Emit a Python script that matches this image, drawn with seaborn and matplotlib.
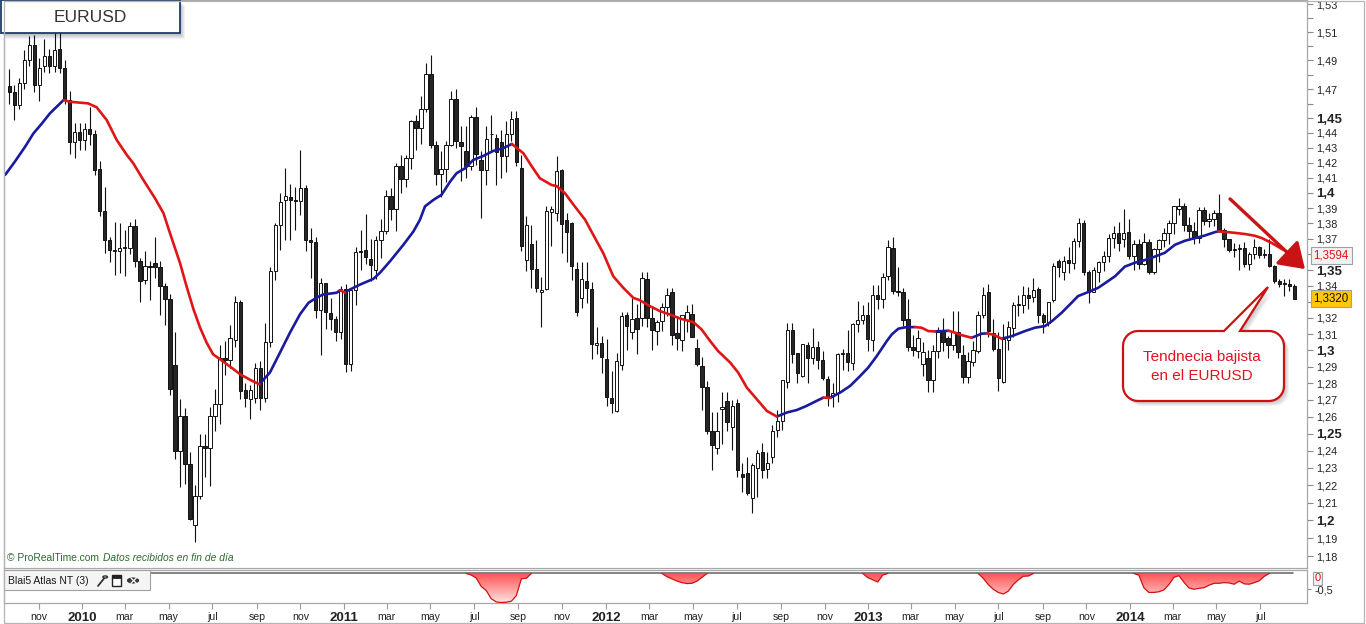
import numpy as np
import pandas as pd
import matplotlib
matplotlib.use("Agg")
import matplotlib.pyplot as plt
import seaborn as sns
from matplotlib.patches import Rectangle, Polygon, Circle, FancyArrowPatch
from matplotlib.colors import LinearSegmentedColormap
from matplotlib.ticker import FixedLocator, FixedFormatter, NullLocator
from matplotlib.transforms import blended_transform_factory

# ---------------- data (weekly EURUSD candles, first week starts 2009-09-21) ----------------
START = "2009-09-21"

opens = [1.472, 1.468, 1.459, 1.474, 1.490, 1.501, 1.473, 1.486, 1.493, 1.486,
         1.498, 1.485, 1.4625, 1.434, 1.441, 1.435, 1.443, 1.439, 1.416, 1.388,
         1.369, 1.362, 1.362, 1.364, 1.364, 1.3785, 1.3555, 1.344, 1.3525, 1.3545,
         1.352, 1.340, 1.332, 1.291, 1.240, 1.2605, 1.232, 1.1975, 1.2141, 1.2427,
         1.2413, 1.2605, 1.2677, 1.2955, 1.294, 1.3065, 1.330, 1.2757, 1.2705, 1.271,
         1.2894, 1.2712, 1.305, 1.3497, 1.3788, 1.3952, 1.397, 1.395, 1.3945, 1.403,
         1.369, 1.368, 1.325, 1.342, 1.323, 1.319, 1.311, 1.338, 1.2915, 1.3375,
         1.3620, 1.3630, 1.3570, 1.3500, 1.3693, 1.3750, 1.3980, 1.3895, 1.4178, 1.4090,
         1.4232, 1.4480, 1.4432, 1.4564, 1.4806, 1.4316, 1.4125, 1.4155, 1.4318, 1.4630,
         1.4340, 1.4280, 1.4180, 1.4507, 1.4218, 1.4149, 1.4390, 1.4365, 1.4340, 1.4244,
         1.4395, 1.4505, 1.4165, 1.3566, 1.3667, 1.3510, 1.3360, 1.3380, 1.3872, 1.3870,
         1.4150, 1.3825, 1.3805, 1.3505, 1.3325, 1.3430, 1.3380, 1.3035, 1.3045, 1.2945,
         1.2710, 1.2635, 1.2913, 1.3220, 1.3115, 1.3200, 1.3200, 1.3445, 1.3200, 1.3118,
         1.3178, 1.3265, 1.3360, 1.3105, 1.3065, 1.3185, 1.3225, 1.3015, 1.2905, 1.2780,
         1.2515, 1.2415, 1.2645, 1.2694, 1.2538, 1.2680, 1.2265, 1.2268, 1.2126, 1.2298,
         1.2393, 1.2294, 1.2365, 1.2523, 1.2575, 1.2810, 1.3122, 1.2985, 1.2845, 1.3030,
         1.2955, 1.3022, 1.2939, 1.2824, 1.2724, 1.2744, 1.2975, 1.2985, 1.2925, 1.3163,
         1.3186, 1.3217, 1.3065, 1.3345, 1.3316, 1.3465, 1.3641, 1.3365, 1.3360, 1.3195,
         1.3020, 1.2995, 1.2915, 1.2950, 1.2820, 1.2997, 1.3118, 1.3078, 1.3035, 1.3115,
         1.2970, 1.2836, 1.2930, 1.2995, 1.3215, 1.3360, 1.3105, 1.3005, 1.2810, 1.3065,
         1.3135, 1.3280, 1.3283, 1.3340, 1.3330, 1.3380, 1.3216, 1.3170, 1.3313, 1.3555,
         1.3486, 1.3566, 1.3546, 1.3685, 1.3805, 1.3488, 1.3364, 1.3490, 1.3554, 1.3588,
         1.3705, 1.3740, 1.3700, 1.3745, 1.3589, 1.3667, 1.3540, 1.3677, 1.3486, 1.3636,
         1.3692, 1.3739, 1.3802, 1.3895, 1.3913, 1.3791, 1.3751, 1.3704, 1.3888, 1.3814,
         1.3830, 1.3871, 1.3759, 1.3697, 1.3627, 1.3634, 1.3643, 1.3540, 1.3604, 1.3646,
         1.3594, 1.3605, 1.3525, 1.3430, 1.3414, 1.3413, 1.3398]

highs = [1.484, 1.473, 1.478, 1.497, 1.507, 1.508, 1.492, 1.505, 1.498, 1.514,
         1.510, 1.490, 1.469, 1.447, 1.447, 1.447, 1.458, 1.442, 1.421, 1.404,
         1.371, 1.381, 1.380, 1.376, 1.381, 1.383, 1.358, 1.362, 1.356, 1.371,
         1.356, 1.342, 1.335, 1.3115, 1.2704, 1.265, 1.239, 1.220, 1.2497, 1.2497,
         1.266, 1.2764, 1.3035, 1.3055, 1.3155, 1.3335, 1.331, 1.280, 1.279, 1.292,
         1.2935, 1.3165, 1.352, 1.380, 1.400, 1.4163, 1.406, 1.404, 1.4282, 1.405,
         1.377, 1.371, 1.345, 1.342, 1.3325, 1.321, 1.340, 1.341, 1.3388, 1.365,
         1.376, 1.386, 1.370, 1.372, 1.383, 1.402, 1.4035, 1.4195, 1.425, 1.425,
         1.4485, 1.452, 1.465, 1.488, 1.494, 1.4345, 1.428, 1.4345, 1.469, 1.470,
         1.445, 1.445, 1.4525, 1.458, 1.428, 1.445, 1.452, 1.439, 1.442, 1.448,
         1.455, 1.455, 1.425, 1.385, 1.379, 1.369, 1.3455, 1.3915, 1.3915, 1.4245,
         1.416, 1.387, 1.381, 1.355, 1.355, 1.355, 1.3425, 1.3145, 1.309, 1.307,
         1.2875, 1.2985, 1.3235, 1.3235, 1.3325, 1.3285, 1.3485, 1.3485, 1.3275, 1.3185,
         1.3295, 1.3385, 1.3385, 1.321, 1.322, 1.328, 1.3285, 1.307, 1.296, 1.2815,
         1.2625, 1.2625, 1.2745, 1.2745, 1.270, 1.2705, 1.233, 1.2365, 1.233, 1.2405,
         1.2445, 1.239, 1.255, 1.264, 1.282, 1.317, 1.317, 1.2985, 1.304, 1.305,
         1.314, 1.306, 1.2995, 1.2845, 1.280, 1.2985, 1.301, 1.3125, 1.3165, 1.3307,
         1.328, 1.330, 1.3405, 1.3405, 1.348, 1.3695, 1.371, 1.352, 1.3385, 1.332,
         1.3095, 1.3122, 1.305, 1.300, 1.303, 1.3145, 1.320, 1.309, 1.324, 1.324,
         1.303, 1.299, 1.306, 1.324, 1.339, 1.3415, 1.3195, 1.311, 1.316, 1.318,
         1.330, 1.3345, 1.340, 1.3395, 1.345, 1.3395, 1.323, 1.330, 1.3545, 1.357,
         1.359, 1.3645, 1.3705, 1.3832, 1.382, 1.350, 1.352, 1.356, 1.362, 1.373,
         1.378, 1.381, 1.3893, 1.383, 1.369, 1.370, 1.374, 1.370, 1.364, 1.370,
         1.377, 1.3825, 1.3915, 1.3967, 1.393, 1.384, 1.381, 1.3905, 1.3905, 1.387,
         1.389, 1.3993, 1.377, 1.370, 1.3675, 1.367, 1.368, 1.3615, 1.370, 1.3655,
         1.3635, 1.370, 1.3535, 1.3445, 1.3445, 1.3445, 1.341]

lows = [1.460, 1.449, 1.456, 1.470, 1.486, 1.468, 1.462, 1.482, 1.481, 1.482,
        1.481, 1.460, 1.426, 1.423, 1.4285, 1.4285, 1.432, 1.412, 1.385, 1.361,
        1.355, 1.347, 1.348, 1.346, 1.360, 1.352, 1.330, 1.341, 1.331, 1.345,
        1.322, 1.3153, 1.273, 1.235, 1.219, 1.2207, 1.200, 1.1876, 1.212, 1.2248,
        1.2198, 1.2516, 1.2556, 1.285, 1.289, 1.302, 1.2704, 1.266, 1.2585, 1.268,
        1.264, 1.2685, 1.302, 1.344, 1.363, 1.3694, 1.369, 1.376, 1.3855, 1.362,
        1.345, 1.320, 1.297, 1.313, 1.3125, 1.3055, 1.307, 1.287, 1.2875, 1.328,
        1.350, 1.354, 1.343, 1.3445, 1.358, 1.373, 1.382, 1.375, 1.400, 1.404,
        1.416, 1.4285, 1.4325, 1.4545, 1.430, 1.405, 1.397, 1.407, 1.431, 1.430,
        1.4075, 1.410, 1.415, 1.4185, 1.3837, 1.405, 1.427, 1.405, 1.410, 1.414,
        1.4345, 1.418, 1.362, 1.3495, 1.3385, 1.336, 1.3145, 1.3375, 1.3655, 1.3815,
        1.361, 1.355, 1.344, 1.321, 1.326, 1.329, 1.2945, 1.298, 1.286, 1.2665,
        1.2624, 1.2625, 1.288, 1.300, 1.307, 1.2975, 1.315, 1.3145, 1.300, 1.303,
        1.312, 1.321, 1.3035, 1.300, 1.2995, 1.311, 1.308, 1.2905, 1.264, 1.2495,
        1.2288, 1.238, 1.244, 1.2515, 1.2405, 1.225, 1.216, 1.2145, 1.2042, 1.2135,
        1.224, 1.224, 1.233, 1.248, 1.252, 1.277, 1.292, 1.280, 1.2835, 1.280,
        1.2915, 1.2885, 1.282, 1.2665, 1.266, 1.269, 1.288, 1.2875, 1.288, 1.3115,
        1.316, 1.2995, 1.2995, 1.3255, 1.326, 1.344, 1.335, 1.3335, 1.315, 1.2995,
        1.2965, 1.295, 1.2843, 1.2745, 1.275, 1.295, 1.2995, 1.2955, 1.300, 1.2955,
        1.280, 1.280, 1.2905, 1.2985, 1.320, 1.308, 1.2995, 1.2755, 1.280, 1.300,
        1.308, 1.321, 1.323, 1.3255, 1.330, 1.317, 1.3105, 1.315, 1.330, 1.3455,
        1.344, 1.348, 1.351, 1.365, 1.347, 1.3295, 1.336, 1.3425, 1.3495, 1.355,
        1.364, 1.3625, 1.365, 1.357, 1.350, 1.351, 1.353, 1.3475, 1.3475, 1.355,
        1.3645, 1.3665, 1.373, 1.3855, 1.375, 1.3705, 1.367, 1.3675, 1.379, 1.3775,
        1.378, 1.375, 1.365, 1.3615, 1.3585, 1.3503, 1.352, 1.350, 1.357, 1.358,
        1.3575, 1.352, 1.342, 1.339, 1.3335, 1.3365, 1.3315]

closes = [1.468, 1.459, 1.474, 1.490, 1.501, 1.473, 1.485, 1.493, 1.486, 1.497,
          1.485, 1.463, 1.434, 1.441, 1.435, 1.443, 1.439, 1.415, 1.388, 1.369,
          1.363, 1.363, 1.364, 1.365, 1.3785, 1.3555, 1.343, 1.3525, 1.352, 1.352,
          1.340, 1.332, 1.2764, 1.240, 1.2605, 1.232, 1.2008, 1.2141, 1.2427, 1.2413,
          1.2605, 1.2677, 1.2955, 1.294, 1.3077, 1.330, 1.2755, 1.271, 1.276, 1.2894,
          1.2712, 1.305, 1.3497, 1.3788, 1.394, 1.3979, 1.395, 1.3945, 1.403, 1.369,
          1.368, 1.3252, 1.342, 1.3235, 1.319, 1.311, 1.338, 1.2915, 1.3375, 1.3615,
          1.3615, 1.3585, 1.3535, 1.3693, 1.3750, 1.3980, 1.3895, 1.4178, 1.4090, 1.4232,
          1.4482, 1.4432, 1.4564, 1.4806, 1.4316, 1.4125, 1.4155, 1.4318, 1.4630, 1.4349,
          1.4311, 1.4180, 1.4507, 1.4260, 1.4149, 1.4361, 1.4391, 1.4270, 1.4244, 1.4395,
          1.4494, 1.4205, 1.3652, 1.3792, 1.3504, 1.3386, 1.3377, 1.3884, 1.3895, 1.4143,
          1.3797, 1.3747, 1.3524, 1.3236, 1.3443, 1.3384, 1.3039, 1.3045, 1.2961, 1.2718,
          1.2680, 1.2933, 1.3214, 1.3147, 1.3196, 1.3130, 1.3450, 1.3197, 1.3125, 1.3173,
          1.3265, 1.3345, 1.3097, 1.3077, 1.3220, 1.3236, 1.3084, 1.2918, 1.2776, 1.2517,
          1.2435, 1.2516, 1.2658, 1.2568, 1.2665, 1.2290, 1.2247, 1.2156, 1.2316, 1.2386,
          1.2290, 1.2331, 1.2513, 1.2577, 1.2820, 1.3127, 1.2978, 1.2859, 1.3036, 1.2954,
          1.3023, 1.2939, 1.2833, 1.2712, 1.2741, 1.2976, 1.2986, 1.2927, 1.3163, 1.3186,
          1.3217, 1.3067, 1.3343, 1.3316, 1.3458, 1.3647, 1.3365, 1.3363, 1.3189, 1.3021,
          1.3004, 1.3074, 1.2987, 1.2819, 1.2996, 1.3113, 1.3048, 1.3031, 1.3114, 1.2990,
          1.2836, 1.2935, 1.2999, 1.3220, 1.3345, 1.3118, 1.3008, 1.2832, 1.3067, 1.3141,
          1.3279, 1.3283, 1.3344, 1.3324, 1.3377, 1.3220, 1.3177, 1.3296, 1.3525, 1.3522,
          1.3555, 1.3547, 1.3685, 1.3805, 1.3485, 1.3364, 1.3498, 1.3554, 1.3591, 1.3705,
          1.3740, 1.3672, 1.3740, 1.3589, 1.3667, 1.3540, 1.3677, 1.3486, 1.3636, 1.3692,
          1.3739, 1.3802, 1.3911, 1.3913, 1.3791, 1.3751, 1.3704, 1.3888, 1.3814, 1.3830,
          1.3871, 1.3759, 1.3697, 1.3627, 1.3634, 1.3643, 1.3540, 1.3604, 1.3646, 1.3594,
          1.3605, 1.3525, 1.3429, 1.3414, 1.3413, 1.3398, 1.3320]

# moving average (x in weeks from START)
ma_week = [-0.8, 1.1, 3.1, 4.8, 6.5, 8.1, 9.8, 10.8, 12.1, 15.7,
           17.4, 19.4, 21.4, 23.4, 24.7, 26.7, 29.0, 30.7, 32.0, 34.0,
           35.3, 36.7, 38.0, 39.3, 40.6, 42.0, 44.0, 46.0, 48.0, 49.8,
           51.9, 53.9, 55.9, 57.9, 59.6, 61.2, 62.5, 65.2, 65.9, 66.9,
           67.2, 69.9, 72.5, 73.8, 75.8, 78.5, 80.5, 81.8, 82.8, 84.5,
           86.1, 87.8, 89.1, 90.8, 92.4, 94.4, 96.4, 98.4, 100.1, 102.4,
           104.1, 105.7, 108.0, 109.0, 110.7, 112.4, 114.7, 116.3, 118.3, 120.3,
           122.3, 124.3, 125.6, 127.6, 129.6, 131.6, 133.6, 136.3, 137.9, 139.6,
           141.2, 143.6, 145.2, 146.9, 148.9, 150.9, 152.9, 154.9, 156.9, 158.8,
           160.8, 162.2, 163.5, 165.5, 167.5, 169.5, 171.1, 172.8, 174.8, 175.8,
           177.1, 178.4, 180.4, 181.7, 183.1, 184.4, 187.1, 188.4, 189.7, 191.7,
           193.7, 194.7, 196.0, 197.7, 199.7, 202.3, 204.3, 206.3, 207.7, 209.6,
           211.6, 212.9, 214.9, 216.9, 218.9, 220.3, 222.2, 224.2, 226.2, 228.2,
           230.2, 232.2, 234.2, 236.2, 238.2, 240.2, 240.8, 243.5, 246.2, 248.1,
           249.5, 251.5, 253.5, 256.0]
ma_val = [1.412, 1.4207, 1.4305, 1.4397, 1.4465, 1.4534, 1.4591, 1.4625, 1.4613, 1.4602,
          1.4575, 1.4488, 1.4352, 1.4252, 1.4196, 1.4085, 1.3965, 1.3867, 1.3737, 1.3545,
          1.3398, 1.3252, 1.3139, 1.3047, 1.2975, 1.2945, 1.2900, 1.2854, 1.2820, 1.2794,
          1.2864, 1.2985, 1.3108, 1.3222, 1.3294, 1.3326, 1.3346, 1.3357, 1.3373, 1.3357,
          1.3367, 1.3409, 1.3444, 1.3482, 1.3555, 1.3662, 1.3748, 1.3824, 1.3911, 1.3954,
          1.3987, 1.4074, 1.4130, 1.4163, 1.4218, 1.4245, 1.4279, 1.4297, 1.4326, 1.4263,
          1.4174, 1.4096, 1.4052, 1.4045, 1.3997, 1.3921, 1.3824, 1.3727, 1.3609, 1.3461,
          1.3388, 1.3325, 1.3310, 1.3273, 1.3242, 1.3221, 1.3196, 1.3173, 1.3128, 1.3057,
          1.2995, 1.2925, 1.2864, 1.2774, 1.2704, 1.2634, 1.2601, 1.2625, 1.2640, 1.2664,
          1.2694, 1.2714, 1.2712, 1.2744, 1.2784, 1.2844, 1.2895, 1.2965, 1.3057, 1.3098,
          1.3133, 1.3141, 1.3143, 1.3139, 1.3118, 1.3116, 1.3120, 1.3108, 1.3093, 1.3077,
          1.3102, 1.3104, 1.3096, 1.3071, 1.3087, 1.3118, 1.3139, 1.3149, 1.3180, 1.3231,
          1.3294, 1.3336, 1.3361, 1.3388, 1.3431, 1.3462, 1.3522, 1.3547, 1.3564, 1.3586,
          1.3611, 1.3662, 1.3688, 1.3705, 1.3722, 1.3744, 1.3748, 1.3741, 1.3731, 1.3720,
          1.3705, 1.3673, 1.3635, 1.3594]

# "Blai5 Atlas NT (3)" indicator: non-zero episodes (start week, weekly values)
ind_start = [91, 130, 170, 193, 224]
ind_vals = [
    [0, -0.05, -0.14, -0.41, -0.54, -0.80, -0.90, -0.92, -0.91, -0.88, -0.70, -0.17, -0.15, 0],
    [0, -0.10, -0.17, -0.24, -0.29, -0.32, -0.31, -0.24, -0.12, 0],
    [0, -0.13, -0.20, -0.27, -0.05, 0],
    [0, -0.15, -0.35, -0.50, -0.60, -0.65, -0.56, -0.35, -0.20, -0.09, -0.08, 0],
    [0, -0.05, -0.45, -0.60, -0.60, -0.58, -0.52, -0.35, -0.12, -0.07, -0.28, -0.46, -0.50, -0.47,
     -0.45, -0.37, -0.31, -0.31, -0.29, -0.30, -0.34, -0.24, -0.33, -0.34, -0.29, -0.23, -0.09, 0],
]

tick_months = ["2009-11", "2010-01", "2010-03", "2010-05", "2010-07", "2010-09", "2010-11",
               "2011-01", "2011-03", "2011-05", "2011-07", "2011-09", "2011-11",
               "2012-01", "2012-03", "2012-05", "2012-07", "2012-09", "2012-11",
               "2013-01", "2013-03", "2013-05", "2013-07", "2013-09", "2013-11",
               "2014-01", "2014-03", "2014-05", "2014-07"]
tick_labels = ["nov", "2010", "mar", "may", "jul", "sep", "nov",
               "2011", "mar", "may", "jul", "sep", "nov",
               "2012", "mar", "may", "jul", "sep", "nov",
               "2013", "mar", "may", "jul", "sep", "nov",
               "2014", "mar", "may", "jul"]

price_ticks = [1.53, 1.52, 1.51, 1.50, 1.49, 1.48, 1.47, 1.46, 1.45, 1.44, 1.43, 1.42, 1.41,
               1.40, 1.39, 1.38, 1.37, 1.36, 1.35, 1.34, 1.33, 1.32, 1.31, 1.30, 1.29, 1.28,
               1.27, 1.26, 1.25, 1.24, 1.23, 1.22, 1.21, 1.20, 1.19, 1.18]
price_labels = ["1,53", "", "1,51", "", "1,49", "", "1,47", "", "1,45", "1,44", "1,43", "1,42", "1,41",
                "1,4", "1,39", "1,38", "1,37", "", "1,35", "1,34", "", "1,32", "1,31", "1,3", "1,29", "1,28",
                "1,27", "1,26", "1,25", "1,24", "1,23", "1,22", "1,21", "1,2", "1,19", "1,18"]
bold_labels = ["1,45", "1,4", "1,35", "1,3", "1,25", "1,2"]

# ---------------- style ----------------
sns.set_theme(style="white")
plt.rcParams['font.family'] = ['Liberation Sans', 'DejaVu Sans']

W, H = 1366, 624
fig = plt.figure(figsize=(W / 100, H / 100), dpi=100, facecolor="white")


def P(x, y):
    return (x / W, 1 - y / H)


LEFT, RIGHT = 4, 1306.5
ax = fig.add_axes([LEFT / W, 1 - 568 / H, (RIGHT - LEFT) / W, 568 / H])
axi = fig.add_axes([LEFT / W, 1 - 603 / H, (RIGHT - LEFT) / W, 33 / H])
XL = (-1.06, 258.4)

# ---------------- candles ----------------
o = np.array(opens); h = np.array(highs); l = np.array(lows); c = np.array(closes)
n = len(c)
idx = np.arange(n, dtype=float)
up = c >= o
ax.set_yscale('log')
ax.vlines(idx, l, h, color="#111111", lw=0.8, zorder=2)
bot = np.minimum(o, c)
hgt = np.maximum(np.abs(c - o), 0.0004)
ax.bar(idx[up], hgt[up], bottom=bot[up], width=0.68, color="white",
       edgecolor="#111111", linewidth=0.7, zorder=3)
ax.bar(idx[~up], hgt[~up], bottom=bot[~up], width=0.68, color="#262626",
       edgecolor="#111111", linewidth=0.7, zorder=3)

# ---------------- moving average (blue rising / red falling) ----------------
mw = np.array(ma_week); mv = np.array(ma_val)
rows = []
seg = 0
prev = None
for k in range(len(mw) - 1):
    d = "up" if mv[k + 1] >= mv[k] else "down"
    if d != prev:
        seg += 1
        rows.append((seg, d, mw[k], mv[k]))
    rows.append((seg, d, mw[k + 1], mv[k + 1]))
    prev = d
ma_df = pd.DataFrame(rows, columns=["seg", "dir", "x", "y"])
sns.lineplot(data=ma_df, x="x", y="y", hue="dir", units="seg", estimator=None, sort=False,
             palette={"up": "#1a1a9e", "down": "#e01515"}, linewidth=1.9, legend=False,
             ax=ax, zorder=4)

ax.set_xlim(*XL)
ax.set_ylim(1.1734, 1.533)
ax.set_xlabel(""); ax.set_ylabel("")
ax.set_xticks([])
ax.yaxis.tick_right()
ax.yaxis.set_major_locator(FixedLocator(price_ticks))
ax.yaxis.set_major_formatter(FixedFormatter(price_labels))
ax.yaxis.set_minor_locator(NullLocator())
ax.tick_params(axis='y', which='major', length=4, width=0.8, color='#8a8a8a', pad=3,
               labelsize=7.8, labelcolor='#222222', direction='out', right=True, left=False)
for t in ax.get_yticklabels():
    if t.get_text() in bold_labels:
        t.set_fontweight('bold')
        t.set_fontsize(9.5)
for s in ax.spines.values():
    s.set_color('#a8a8a8'); s.set_linewidth(0.9)

# current-value boxes
btr = blended_transform_factory(ax.transAxes, ax.transData)
ax.text(1.0055, ma_val[-1], "1,3594", transform=btr, ha='left', va='center', fontsize=8.3,
        color='#e01515', clip_on=False, zorder=10,
        bbox=dict(boxstyle='square,pad=0.22', fc='#f2f2f2', ec='#a0a0a0', lw=0.8))
ax.text(1.0055, closes[-1], "1,3320", transform=btr, ha='left', va='center', fontsize=8.3,
        color='#111111', clip_on=False, zorder=10,
        bbox=dict(boxstyle='square,pad=0.22', fc='#ffc80a', ec='#a0a0a0', lw=0.8))

# watermark (second part chained to the right of the first)
wm = ax.text(0.0025, 0.0095, "© ProRealTime.com", transform=ax.transAxes, fontsize=7.4,
             color='#2e6a30', ha='left', va='bottom')
ax.annotate("Datos recibidos en fin de día", xy=(1, 0), xycoords=wm, xytext=(3, 0),
            textcoords='offset points', fontsize=7.4, color='#2e6a30', ha='left', va='bottom',
            style='italic')

# ---------------- indicator panel ----------------
ind = np.zeros(n)
for s0, vals in zip(ind_start, ind_vals):
    ind[s0:s0 + len(vals)] = vals
poly = axi.fill_between(idx, ind, 0, facecolor='none', edgecolor='none')
grad = np.linspace(0, 1, 256).reshape(-1, 1)
cmap = LinearSegmentedColormap.from_list('g', ['#ff5252', '#ffe4e4'])
im = axi.imshow(grad, extent=[idx[0], idx[-1], -0.93, 0], origin='upper', aspect='auto',
                cmap=cmap, zorder=2)
im.set_clip_path(poly.get_paths()[0], transform=axi.transData)
axi.plot([XL[0], 255.7], [0, 0], color='#6e6e6e', lw=1.2, zorder=3)
ep_rows = []
for e, (s0, vals) in enumerate(zip(ind_start, ind_vals)):
    for j, v in enumerate(vals):
        ep_rows.append((e, s0 + j, v))
ep_df = pd.DataFrame(ep_rows, columns=["ep", "x", "v"])
sns.lineplot(data=ep_df, x="x", y="v", units="ep", estimator=None, color="#d01010",
             linewidth=0.9, legend=False, ax=axi, zorder=4)
axi.set_xlim(*XL)
axi.set_ylim(-0.935, 0.11)
axi.set_xlabel(""); axi.set_ylabel("")
for s in axi.spines.values():
    s.set_color('#a8a8a8'); s.set_linewidth(0.9)
axi.yaxis.tick_right()
axi.set_yticks([-0.5])
axi.set_yticklabels(["-0,5"])
axi.tick_params(axis='y', length=3, width=0.8, color='#8a8a8a', pad=3, labelsize=7.8,
                labelcolor='#222222', right=True, left=False)
axi.text(1.0062, 0.0, "0", transform=blended_transform_factory(axi.transAxes, axi.transData),
         ha='left', va='top', fontsize=8, color='#e01515', clip_on=False, zorder=10,
         bbox=dict(boxstyle='square,pad=0.15', fc='#f2f2f2', ec='#a0a0a0', lw=0.8))

start = pd.Timestamp(START)
tick_pos = [(pd.Timestamp(m + "-01") - start).days / 7.0 for m in tick_months]
axi.set_xticks(tick_pos)
axi.set_xticklabels(tick_labels)
axi.tick_params(axis='x', length=4, width=0.8, color='#9a9a9a', pad=2.5, labelsize=7.6,
                labelcolor='#222222', bottom=True, direction='out')
for t in axi.get_xticklabels():
    if t.get_text().isdigit():
        t.set_fontweight('bold')
        t.set_fontsize(9.5)

# indicator title box
fig.patches.append(Rectangle(P(4, 590), 146 / W, 20 / H, transform=fig.transFigure,
                             fc='#f4f4f4', ec='#a0a0a0', lw=0.8, zorder=30))
fig.text(*P(8, 580.5), "Blai5 Atlas NT (3)", fontsize=7.5, color='#1a1a1a',
         ha='left', va='center', zorder=31)
# wrench icon
fig.lines.append(plt.Line2D([98 / W, 104 / W], [1 - 586 / H, 1 - 578.5 / H], transform=fig.transFigure,
                            color='#333333', lw=1.3, zorder=31))
fig.patches.append(Circle(P(105.2, 577), 2.3 / W, transform=fig.transFigure, fc='none',
                          ec='#333333', lw=1.0, zorder=31))
# window icon
fig.patches.append(Rectangle(P(112, 586), 9 / W, 11 / H, transform=fig.transFigure,
                             fc='white', ec='#222222', lw=1.0, zorder=31))
fig.patches.append(Rectangle(P(112, 577.5), 9 / W, 2.5 / H, transform=fig.transFigure,
                             fc='#222222', ec='#222222', lw=0.6, zorder=32))
# close icon
fig.patches.append(Circle(P(133, 580.5), 5.6 / W, transform=fig.transFigure, fc='#3a3a3a',
                          ec='#222222', lw=0.6, zorder=31))
fig.text(*P(133, 580.8), "×", fontsize=8, color='white', ha='center', va='center',
         fontweight='bold', zorder=33, family='DejaVu Sans')

# ---------------- title box ----------------
for k in range(1, 7):
    fig.patches.append(Rectangle(P(0 + k, 33 + k), 179 / W, 33 / H, transform=fig.transFigure,
                                 fc='black', alpha=0.05, ec='none', zorder=19))
fig.patches.append(Rectangle(P(0.5, 33), 179 / W, 32.5 / H, transform=fig.transFigure,
                             fc='white', ec='#1f3b6e', lw=1.3, zorder=20))
fig.text(*P(90, 17), "EURUSD", fontsize=12.5, color='#333333', ha='center', va='center', zorder=21)

# ---------------- trend arrow ----------------
fig.patches.append(FancyArrowPatch(P(1228, 197), P(1307, 271), transform=fig.transFigure,
                                   arrowstyle='-|>,head_length=0.75,head_width=0.5',
                                   mutation_scale=20, lw=2.4, color='#c81414', zorder=25))

# ---------------- callout ----------------
def arc(cx, cy, r, a0, a1, npts=10):
    a = np.radians(np.linspace(a0, a1, npts))
    return [(cx + r * np.cos(t), cy + r * np.sin(t)) for t in a]


x0, x1, y0, y1, r = 1123, 1284, 331, 401, 15
pts = [(x0 + r, y0), (1224, y0), (1268, 287), (1240, y0), (x1 - r, y0)]
pts += arc(x1 - r, y0 + r, r, 270, 360)
pts += arc(x1 - r, y1 - r, r, 0, 90)
pts += arc(x0 + r, y1 - r, r, 90, 180)
pts += arc(x0 + r, y0 + r, r, 180, 270)
for k in range(1, 6):
    sh = [P(px + k, py + k) for px, py in pts]
    fig.patches.append(Polygon(sh, closed=True, transform=fig.transFigure, fc='black',
                               alpha=0.05, ec='none', zorder=22))
fig.patches.append(Polygon([P(px, py) for px, py in pts], closed=True, transform=fig.transFigure,
                           fc='white', ec='#cc1212', lw=1.6, zorder=23))
fig.text(*P(1202, 357), "Tendnecia bajista", fontsize=11, color='#e0141e',
         ha='center', va='center', zorder=24)
fig.text(*P(1202, 376), "en el EURUSD", fontsize=11, color='#e0141e',
         ha='center', va='center', zorder=24)

# outer frame
fig.patches.append(Rectangle(P(3.5, 622.5), (1364 - 3.5) / W, 622 / H, transform=fig.transFigure,
                             fc='none', ec='#b4b4b4', lw=0.9, zorder=40))

fig.savefig("out.png", dpi=100, facecolor="white")
